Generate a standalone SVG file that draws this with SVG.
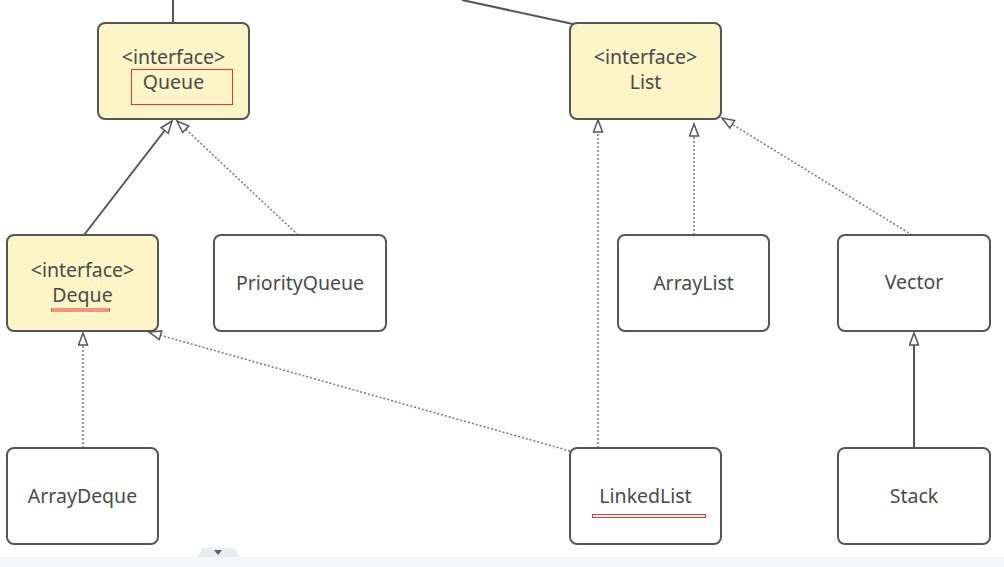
<svg xmlns="http://www.w3.org/2000/svg" width="1004" height="567" viewBox="0 0 1004 567">
<defs>
<marker id="tri" markerWidth="16" markerHeight="12" refX="13" refY="5.5" orient="auto" markerUnits="userSpaceOnUse">
<path d="M1,1 L13,5.5 L1,10 Z" fill="#fff" stroke="#555" stroke-width="1.5"/>
</marker>
<style>
.iface{fill:#fdf4c8;stroke:#555;stroke-width:2}
.cls{fill:#fff;stroke:#555;stroke-width:2}
text{font-family:"Noto Sans","Open Sans",sans-serif;font-size:19.5px;fill:#4a4a4a;text-anchor:middle}
.solid{stroke:#555;stroke-width:2;fill:none}
.dot{stroke:#777;stroke-width:1.5;stroke-dasharray:2 2;fill:none}
.red{fill:none;stroke:#e53935;stroke-width:1}
</style>
</defs>
<rect width="1004" height="567" fill="#fff"/>
<rect x="0" y="557" width="1004" height="10" fill="#f5f6f9"/>
<path d="M197,557 L203,548 L234,548 L240,557 Z" fill="#e9ebef"/>
<path d="M214,550 L222,550 L218,555 Z" fill="#5a5f6a"/>
<g id="connectors">
<line class="solid" x1="173" y1="0" x2="173" y2="23"/>
<line class="solid" x1="462" y1="0" x2="573" y2="24"/>
<line class="solid" x1="84" y1="235" x2="172" y2="121" marker-end="url(#tri)"/>
<line class="dot" x1="298" y1="235" x2="177" y2="121" marker-end="url(#tri)"/>
<line class="dot" x1="83" y1="448" x2="83" y2="333" marker-end="url(#tri)"/>
<line class="dot" x1="570" y1="451" x2="149" y2="332" marker-end="url(#tri)"/>
<line class="dot" x1="598" y1="448" x2="598" y2="120" marker-end="url(#tri)"/>
<line class="dot" x1="694" y1="235" x2="694" y2="124" marker-end="url(#tri)"/>
<line class="dot" x1="912" y1="235" x2="722" y2="118" marker-end="url(#tri)"/>
<line class="solid" x1="914" y1="448" x2="914" y2="333" marker-end="url(#tri)"/>
</g>
<g id="queue">
<rect class="iface" x="98" y="23" width="151" height="96" rx="7"/>
<text x="173.5" y="64">&lt;interface&gt;</text>
<text x="173.5" y="89">Queue</text>
<rect class="red" x="131.5" y="69.5" width="101" height="35"/>
</g>
<g id="list">
<rect class="iface" x="570" y="23" width="151" height="96" rx="7"/>
<text x="645.5" y="64">&lt;interface&gt;</text>
<text x="645.5" y="89">List</text>
</g>
<g id="deque">
<rect class="iface" x="7" y="235" width="151" height="96" rx="7"/>
<text x="82.5" y="277">&lt;interface&gt;</text>
<text x="82.5" y="302">Deque</text>
<rect class="red" x="51.5" y="309" width="58" height="2"/>
</g>
<g id="priorityqueue">
<rect class="cls" x="214" y="235" width="172" height="96" rx="7"/>
<text x="300" y="290">PriorityQueue</text>
</g>
<g id="arraylist">
<rect class="cls" x="618" y="235" width="151" height="96" rx="7"/>
<text x="693.5" y="290">ArrayList</text>
</g>
<g id="vector">
<rect class="cls" x="838" y="235" width="152" height="96" rx="7"/>
<text x="914" y="289">Vector</text>
</g>
<g id="arraydeque">
<rect class="cls" x="7" y="448" width="151" height="96" rx="7"/>
<text x="82.5" y="503">ArrayDeque</text>
</g>
<g id="linkedlist">
<rect class="cls" x="570" y="448" width="151" height="96" rx="7"/>
<text x="645.5" y="503">LinkedList</text>
<rect class="red" x="592.5" y="514.5" width="113" height="3"/>
</g>
<g id="stack">
<rect class="cls" x="838" y="448" width="152" height="96" rx="7"/>
<text x="914" y="503">Stack</text>
</g>
</svg>
